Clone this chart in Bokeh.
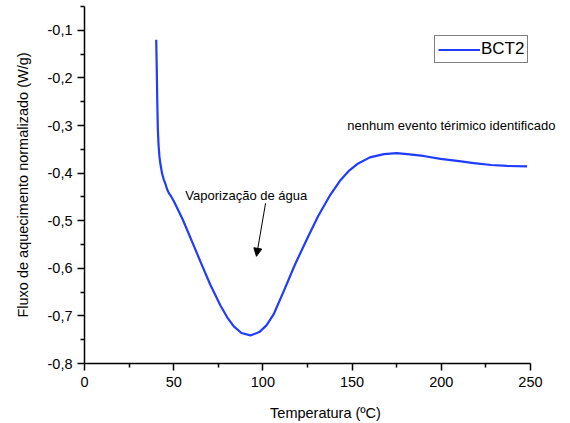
from bokeh.plotting import figure
from bokeh.models import (Range1d, FixedTicker, CustomJSTickFormatter, Label,
                          Arrow, NormalHead, Legend, LegendItem)
from bokeh.embed import file_html
from bokeh.resources import INLINE

# Data
temperature = [40.2, 40.5, 40.8, 41.1, 41.5, 42.0, 42.6, 43.5, 44.4, 45.4, 46.3,
               47.3, 48.6, 50.1, 55.0, 61.3, 66.0, 70.6, 76.2, 80.0, 83.7, 88.0,
               93.0, 98.0, 102.0, 106.0, 111.7, 118.0, 124.8, 131.0, 137.9, 143.5,
               148.0, 152.9, 160.0, 167.8, 175.0, 180.9, 190.0, 199.6, 210.0, 218.2,
               228.0, 236.9, 248.1]
heat_flow = [-0.120, -0.180, -0.250, -0.305, -0.340, -0.365, -0.382, -0.401, -0.413,
             -0.423, -0.434, -0.442, -0.449, -0.459, -0.497, -0.553, -0.595, -0.635,
             -0.678, -0.703, -0.722, -0.736, -0.741, -0.734, -0.720, -0.697, -0.648,
             -0.592, -0.538, -0.490, -0.445, -0.415, -0.396, -0.381, -0.367, -0.360,
             -0.358, -0.360, -0.364, -0.370, -0.375, -0.379, -0.383, -0.385, -0.386]
x_major = [0, 50, 100, 150, 200, 250]
x_minor = [25, 75, 125, 175, 225]
y_major = [-0.8, -0.7, -0.6, -0.5, -0.4, -0.3, -0.2, -0.1]
y_minor = [-0.75, -0.65, -0.55, -0.45, -0.35, -0.25, -0.15, -0.05]
series_name = "BCT2"
annot_water = "Vaporização de água"
annot_none = "nenhum evento térimico identificado"
x_title = "Temperatura (ºC)"
y_title = "Fluxo de aquecimento normalizado (W/g)"

FONT = "Liberation Sans"

# frame extends a little past 250 so the right-hand note is not clipped;
# the x axis line itself is bounded to 0..250
p = figure(width=570, height=423, output_backend="svg", toolbar_location=None,
           x_range=Range1d(0, 270.2), y_range=Range1d(-0.8, -0.05),
           min_border_left=84, min_border_right=4, min_border_top=6,
           min_border_bottom=60)
p.outline_line_color = None
p.xgrid.visible = False
p.ygrid.visible = False
p.background_fill_color = "white"
p.border_fill_color = "white"

line = p.line(temperature, heat_flow, line_color="#1f3cff", line_width=2.2,
              line_join="round")

for ax in (p.xaxis[0], p.yaxis[0]):
    ax.axis_line_width = 1.5
    ax.axis_line_color = "black"
    ax.major_tick_line_color = "black"
    ax.minor_tick_line_color = "black"
    ax.major_tick_line_width = 1.5
    ax.minor_tick_line_width = 1.5
    ax.major_tick_out = 7
    ax.major_tick_in = 0
    ax.minor_tick_out = 4
    ax.minor_tick_in = 0
    ax.major_label_text_font = FONT
    ax.major_label_text_font_size = "14.5px"
    ax.major_label_text_color = "black"
    ax.axis_label_text_font = FONT
    ax.axis_label_text_font_size = "14.5px"
    ax.axis_label_text_font_style = "normal"
    ax.axis_label_text_color = "black"

p.xaxis[0].bounds = (0, 250)
p.xaxis[0].ticker = FixedTicker(ticks=x_major, minor_ticks=x_minor)
p.yaxis[0].ticker = FixedTicker(ticks=y_major, minor_ticks=y_minor)
p.xaxis[0].formatter = CustomJSTickFormatter(code="return tick.toFixed(0);")
p.yaxis[0].formatter = CustomJSTickFormatter(
    code="return tick.toFixed(1).replace('.', ',');")
p.xaxis[0].major_label_standoff = 6
p.yaxis[0].major_label_standoff = 5
p.xaxis[0].axis_label = x_title
p.xaxis[0].axis_label_standoff = 15
p.yaxis[0].axis_label = y_title
p.yaxis[0].axis_label_standoff = 14

# annotations
p.add_layout(Label(x=90.7, y=-0.4466, text=annot_water, text_align="center",
                   text_baseline="middle", text_font=FONT, text_font_size="13px",
                   text_color="black"))
p.add_layout(Label(x=147.3, y=-0.301, text=annot_none, text_align="left",
                   text_baseline="middle", text_font=FONT, text_font_size="13px",
                   text_color="black"))
p.add_layout(Arrow(x_start=101.5, y_start=-0.4634, x_end=96.4, y_end=-0.5748,
                   line_color="black", line_width=1,
                   end=NormalHead(size=8, fill_color="black", line_color="black")))

legend = Legend(items=[LegendItem(label=series_name, renderers=[line])],
                location=(350, 300))
legend.border_line_color = "black"
legend.border_line_width = 1
legend.background_fill_color = "white"
legend.background_fill_alpha = 1
legend.padding = 3
legend.margin = 0
legend.spacing = 0
legend.glyph_width = 42
legend.glyph_height = 19
legend.label_height = 19
legend.label_standoff = 1
legend.label_text_font = FONT
legend.label_text_font_size = "17px"
legend.label_text_color = "black"
p.add_layout(legend)

open("out.html", "w").write(file_html(p, INLINE))
